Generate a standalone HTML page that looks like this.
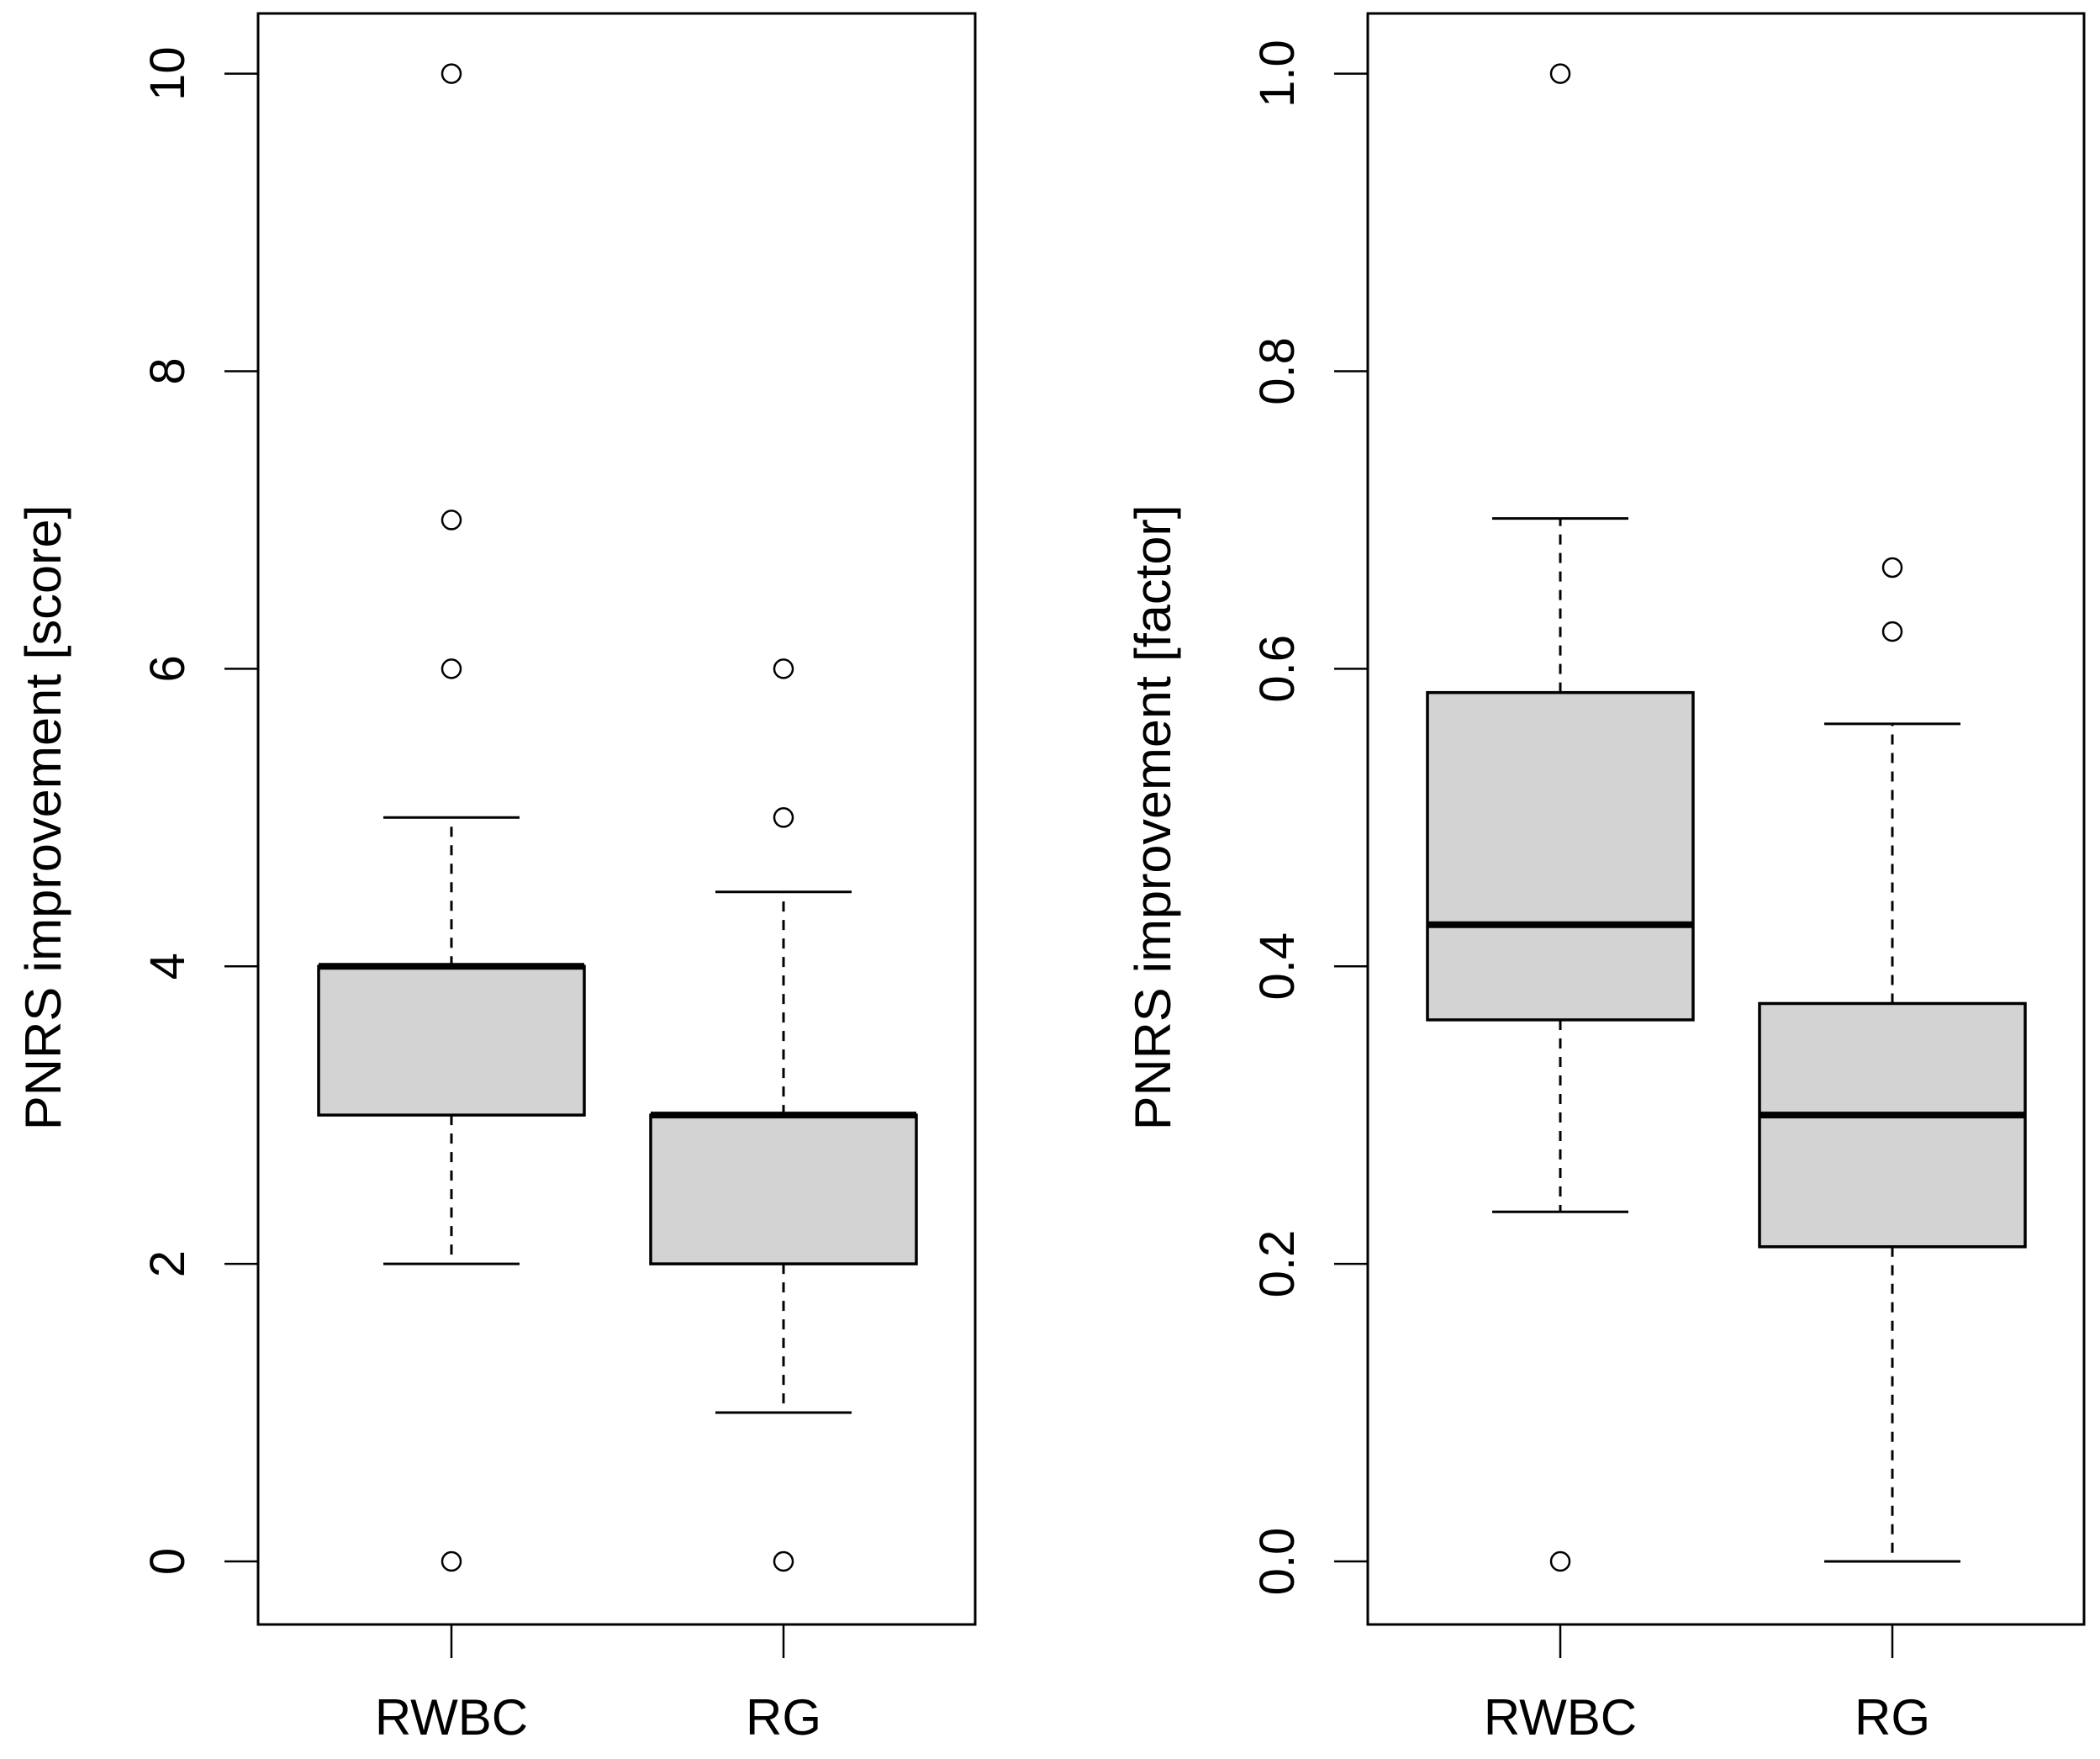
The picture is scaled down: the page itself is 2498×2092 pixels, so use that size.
<!DOCTYPE html>
<html><head><meta charset="utf-8"><style>
html,body{margin:0;padding:0;background:#fff}
svg{display:block}
text{font-family:"Liberation Sans",Arial,sans-serif;fill:#000}
</style></head><body>
<svg id="c" width="2498" height="2092" viewBox="0 0 2498 2092"></svg>
<script>
const categories = ["RWBC","RG"];
// left panel (score)
const scoreLowWhisker = [2,1];
const scoreQ1 = [3,2];
const scoreMedian = [4,3];
const scoreQ3 = [4,3];
const scoreHighWhisker = [5,4.5];
const scoreOutliers = [[10,7,6,0],[6,5,0]];
const scoreTicks = [0,2,4,6,8,10];
const scoreTickLabels = ["0","2","4","6","8","10"];
// right panel (factor)
const factorLowWhisker = [0.235,0];
const factorQ1 = [0.364,0.2115];
const factorMedian = [0.428,0.3];
const factorQ3 = [0.584,0.375];
const factorHighWhisker = [0.701,0.563];
const factorOutliers = [[1.0,0.0],[0.668,0.625]];
const factorTicks = [0,0.2,0.4,0.6,0.8,1.0];
const factorTickLabels = ["0.0","0.2","0.4","0.6","0.8","1.0"];

const NS="http://www.w3.org/2000/svg";
const svg=document.getElementById('c');
function mk(tag,attrs,parent){const e=document.createElementNS(NS,tag);for(const k in attrs)e.setAttribute(k,attrs[k]);(parent||svg).appendChild(e);return e;}

function panel(p){
  const g=mk('g',{});
  
  
  const y=v=>1857-(v-p.min)/(p.max-p.min)*(1857-87.6);
  const x=i=>p.centers[i];
  const fr=mk('rect',{x:p.left,y:16,width:p.right-p.left,height:1932-16,fill:'none',stroke:'#000','stroke-width':3},g);
  
  
  p.ticks.forEach((t,i)=>{
    const tl=mk('line',{x1:p.left-40,x2:p.left,y1:y(t),y2:y(t),stroke:'#000','stroke-width':2.5},g);
    
    
    const tx=mk('text',{x:0,y:0,'font-size':58,'text-anchor':'middle',transform:`translate(${p.left-88},${y(t)}) rotate(-90)`},g);
    tx.textContent=p.tickLabels[i];
    
    
  });
  const yl=mk('text',{x:0,y:0,'font-size':60,'text-anchor':'middle',transform:`translate(${p.left-235},${(y(p.min)+y(p.max))/2}) rotate(-90)`,textLength:744,lengthAdjust:'spacingAndGlyphs'},g);
  yl.textContent=p.ylabel;
  
  
  categories.forEach((c,i)=>{
    const cx=x(i);
    const bt=mk('line',{x1:cx,x2:cx,y1:1932,y2:1972,stroke:'#000','stroke-width':2.5},g);
    
    
    const lab=mk('text',{x:cx,y:2063,'font-size':60,'text-anchor':'middle'},g);
    lab.textContent=c;
    
    
    const wl=mk('line',{x1:cx,x2:cx,y1:y(p.q1[i]),y2:y(p.lo[i]),stroke:'#000','stroke-width':3,'stroke-dasharray':'12,10'},g);
    
    
    const wh=mk('line',{x1:cx,x2:cx,y1:y(p.q3[i]),y2:y(p.hi[i]),stroke:'#000','stroke-width':3,'stroke-dasharray':'12,10'},g);
    
    
    [p.lo[i],p.hi[i]].forEach(v=>{
      const cap=mk('line',{x1:cx-81,x2:cx+81,y1:y(v),y2:y(v),stroke:'#000','stroke-width':3},g);
      
      
    });
    const bx=mk('rect',{x:cx-158,width:316,y:y(p.q3[i]),height:Math.max(0.01,y(p.q1[i])-y(p.q3[i])),fill:'#d3d3d3',stroke:'#000','stroke-width':3.5},g);
    
    
    const md=mk('line',{x1:cx-158,x2:cx+158,y1:y(p.med[i]),y2:y(p.med[i]),stroke:'#000','stroke-width':8},g);
    
    
    p.out[i].forEach(v=>{
      const o=mk('circle',{cx:cx,cy:y(v),r:11,fill:'none',stroke:'#000','stroke-width':2.5},g);
      
      
    });
  });
}
panel({name:'score-panel',left:307,right:1160,centers:[537,932],min:0,max:10,ticks:scoreTicks,tickLabels:scoreTickLabels,
  ylabel:'PNRS improvement [score]',lo:scoreLowWhisker,q1:scoreQ1,med:scoreMedian,q3:scoreQ3,hi:scoreHighWhisker,out:scoreOutliers});
panel({name:'factor-panel',left:1627,right:2479,centers:[1856,2251],min:0,max:1,ticks:factorTicks,tickLabels:factorTickLabels,
  ylabel:'PNRS improvement [factor]',lo:factorLowWhisker,q1:factorQ1,med:factorMedian,q3:factorQ3,hi:factorHighWhisker,out:factorOutliers});
</script>
</body></html>
